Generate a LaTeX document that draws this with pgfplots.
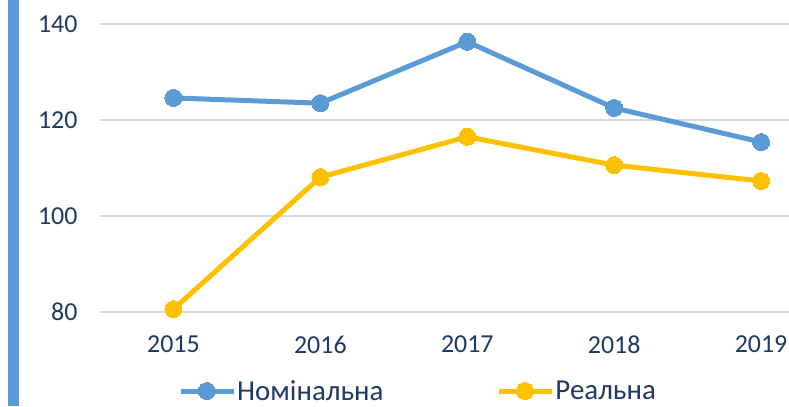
\documentclass[border=0pt]{standalone}
\usepackage{pgfplots}
\pgfplotsset{compat=1.18}
\usepackage{fontspec}
\setmainfont{Carlito}
\definecolor{nblue}{RGB}{91,155,213}
\definecolor{ryellow}{RGB}{255,192,0}
\definecolor{navy}{RGB}{31,56,100}
\definecolor{gridc}{RGB}{217,217,217}
\begin{document}
\begin{tikzpicture}[x=1bp,y=1bp]
\path[use as bounding box] (-100,-94) rectangle (689,312);
\fill[nblue] (-92,-94) rectangle (-81,312);
\begin{axis}[
  at={(0,0)}, anchor=south west,
  scale only axis, width=689bp, height=288bp,
  xmin=-0.5, xmax=4.19, ymin=80, ymax=140,
  clip=false,
  axis line style={draw=none},
  major tick length=0pt,
  xtick={0,1,2,3,4},
  xticklabels={2015,2016,2017,2018,2019},
  ytick={80,100,120,140},
  ymajorgrids, grid style={gridc, line width=1.5bp},
  /pgf/number format/assume math mode=true,
  /pgf/number format/set thousands separator={},
  tick label style={font=\fontsize{26}{30}\selectfont, text=navy},
  yticklabel style={anchor=east, xshift=-19bp},
  xticklabel style={anchor=north, yshift=-20bp},
  legend columns=2,
  legend style={at={(78bp,-79bp)}, anchor=west, draw=none, fill=none,
    font=\fontsize{29}{32}\selectfont, text=navy,
    /tikz/every even column/.append style={column sep=112bp},
    inner sep=0pt, nodes={inner sep=1bp}},
  legend image code/.code={\draw[mark repeat=2,mark phase=2,#1] plot coordinates {(0bp,0bp)(26bp,0bp)(53bp,0bp)};},
]
\addplot[nblue, line width=5bp, mark=*, mark size=8.5bp, mark options={solid, fill=nblue, draw=nblue, line width=0pt}]
  coordinates {(0,124.6) (1,123.5) (2,136.3) (3,122.5) (4,115.4)};
\addlegendentry{Номінальна}
\addplot[ryellow, line width=5bp, mark=*, mark size=8.5bp, mark options={solid, fill=ryellow, draw=ryellow, line width=0pt}]
  coordinates {(0,80.6) (1,108.1) (2,116.5) (3,110.6) (4,107.3)};
\addlegendentry{Реальна}
\end{axis}
\end{tikzpicture}
\end{document}
